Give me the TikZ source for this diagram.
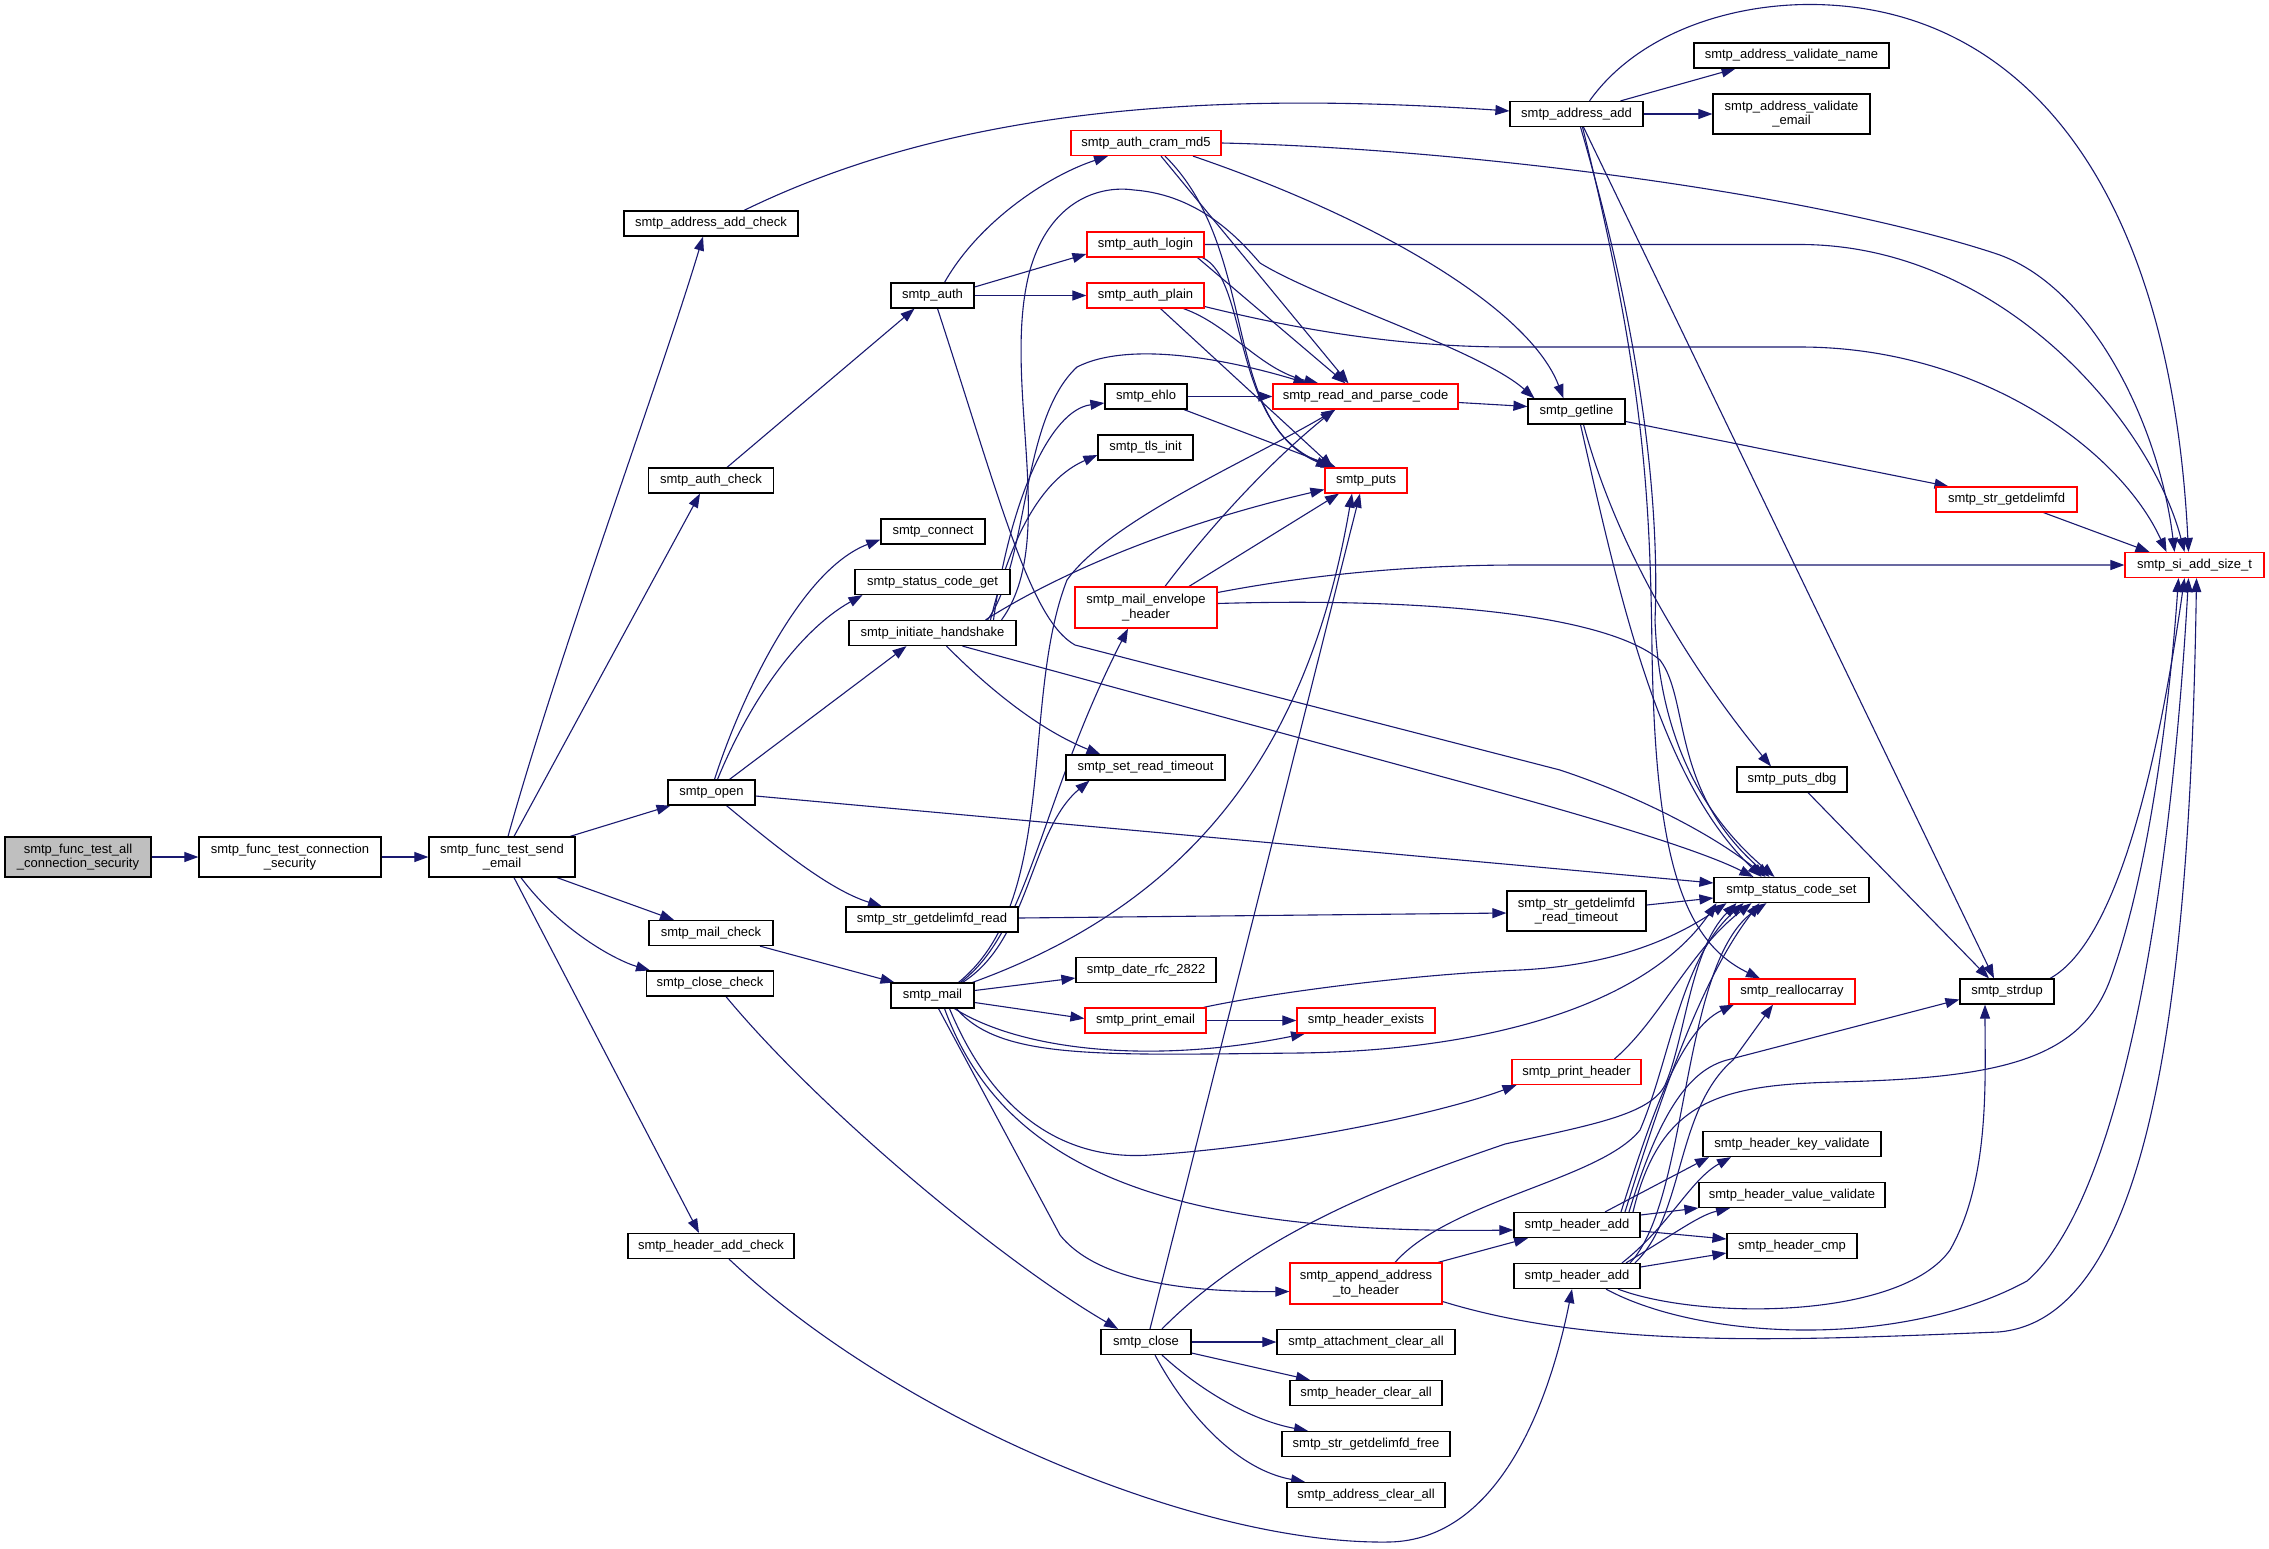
\documentclass[tikz,border=0pt]{standalone}
\usepackage{fontspec}
\setmainfont{Liberation Sans}
\usetikzlibrary{arrows.meta}
\pgfdeclarelayer{background}
\pgfsetlayers{background,main}
\definecolor{edgec}{HTML}{191970}
\definecolor{nodegray}{HTML}{BFBFBF}
\begin{document}
\begin{tikzpicture}[x=1pt,y=-1pt,
  nbox/.style={draw=black,fill=white,line width=1.2pt,inner sep=0pt,align=center,minimum height=25pt,font=\fontsize{13}{14.5}\selectfont},
  rbox/.style={nbox,draw=red},
  conn/.style={draw=edgec,line width=1.1pt,-{Triangle[length=14pt,width=10pt]}}]
\useasboundingbox (0,0) rectangle (2269,1548);
% ---------------- nodes ----------------
\node[nbox,fill=nodegray,minimum width=146pt,minimum height=40pt] (A) at (78,857) {smtp\_func\_test\_all\\\_connection\_security};
\node[nbox,minimum width=182pt,minimum height=40pt] (B) at (290,857) {smtp\_func\_test\_connection\\\_security};
\node[nbox,minimum width=146pt,minimum height=40pt] (C) at (502,857) {smtp\_func\_test\_send\\\_email};
\node[nbox,minimum width=174pt] (aac) at (711,223.5) {smtp\_address\_add\_check};
\node[nbox,minimum width=125pt] (authc) at (711,480.5) {smtp\_auth\_check};
\node[nbox,minimum width=87pt] (open) at (711.5,792.5) {smtp\_open};
\node[nbox,minimum width=124pt] (mailc) at (711,933) {smtp\_mail\_check};
\node[nbox,minimum width=127pt] (closec) at (710,983.5) {smtp\_close\_check};
\node[nbox,minimum width=166pt] (hac) at (711,1246) {smtp\_header\_add\_check};
\node[nbox,minimum width=83pt] (auth) at (932.5,295.5) {smtp\_auth};
\node[nbox,minimum width=104pt] (connect) at (933,531.5) {smtp\_connect};
\node[nbox,minimum width=155pt] (scget) at (932.5,582) {smtp\_status\_code\_get};
\node[nbox,minimum width=167pt] (hand) at (932.5,633) {smtp\_initiate\_handshake};
\node[nbox,minimum width=172pt] (gdread) at (932,919.5) {smtp\_str\_getdelimfd\_read};
\node[nbox,minimum width=83pt] (mail) at (932.5,995.5) {smtp\_mail};
\node[rbox,minimum width=150pt] (cram) at (1146,143) {smtp\_auth\_cram\_md5};
\node[rbox,minimum width=117pt] (login) at (1145.5,244.5) {smtp\_auth\_login};
\node[rbox,minimum width=117pt] (plain) at (1145.5,295.5) {smtp\_auth\_plain};
\node[nbox,minimum width=82pt] (ehlo) at (1146,396.5) {smtp\_ehlo};
\node[nbox,minimum width=95pt] (tls) at (1145.5,447.5) {smtp\_tls\_init};
\node[rbox,minimum width=142pt,minimum height=41pt] (env) at (1146,607.5) {smtp\_mail\_envelope\\\_header};
\node[nbox,minimum width=159pt] (srt) at (1145.5,767.5) {smtp\_set\_read\_timeout};
\node[nbox,minimum width=140pt] (date) at (1146,970) {smtp\_date\_rfc\_2822};
\node[rbox,minimum width=121pt] (pemail) at (1145.5,1020.5) {smtp\_print\_email};
\node[nbox,minimum width=90pt] (close) at (1146,1342) {smtp\_close};
\node[rbox,minimum width=185pt] (rpc) at (1365.5,396.5) {smtp\_read\_and\_parse\_code};
\node[rbox,minimum width=82pt] (puts) at (1366,480.5) {smtp\_puts};
\node[rbox,minimum width=138pt] (hexists) at (1366,1020.5) {smtp\_header\_exists};
\node[rbox,minimum width=152pt,minimum height=41pt] (append) at (1366,1283.5) {smtp\_append\_address\\\_to\_header};
\node[nbox,minimum width=178pt] (attach) at (1366,1342) {smtp\_attachment\_clear\_all};
\node[nbox,minimum width=152pt] (hclear) at (1366,1393) {smtp\_header\_clear\_all};
\node[nbox,minimum width=168pt] (gdfree) at (1366,1444) {smtp\_str\_getdelimfd\_free};
\node[nbox,minimum width=158pt] (aclear) at (1366,1495) {smtp\_address\_clear\_all};
\node[nbox,minimum width=133pt] (aadd) at (1576.5,114) {smtp\_address\_add};
\node[nbox,minimum width=97pt] (getline) at (1576.5,411.5) {smtp\_getline};
\node[nbox,minimum width=139pt,minimum height=40pt] (rto) at (1576.5,911) {smtp\_str\_getdelimfd\\\_read\_timeout};
\node[rbox,minimum width=129pt] (phead) at (1576.5,1072) {smtp\_print\_header};
\node[nbox,minimum width=126pt] (hadd1) at (1577,1225) {smtp\_header\_add};
\node[nbox,minimum width=126pt] (hadd2) at (1577,1276) {smtp\_header\_add};
\node[nbox,minimum width=195pt] (vname) at (1791.5,55.5) {smtp\_address\_validate\_name};
\node[nbox,minimum width=157pt,minimum height=40pt] (vemail) at (1791.5,114) {smtp\_address\_validate\\\_email};
\node[nbox,minimum width=110pt] (putsdbg) at (1792,779.5) {smtp\_puts\_dbg};
\node[nbox,minimum width=155pt] (scset) at (1791.5,890) {smtp\_status\_code\_set};
\node[rbox,minimum width=126pt] (realloc) at (1792,991.5) {smtp\_reallocarray};
\node[nbox,minimum width=178pt] (hkey) at (1792,1144) {smtp\_header\_key\_validate};
\node[nbox,minimum width=186pt] (hval) at (1792,1195) {smtp\_header\_value\_validate};
\node[nbox,minimum width=130pt] (hcmp) at (1792,1246) {smtp\_header\_cmp};
\node[rbox,minimum width=141pt] (gdelim) at (2006.5,499.5) {smtp\_str\_getdelimfd};
\node[nbox,minimum width=94pt] (strdup) at (2007,991.5) {smtp\_strdup};
\node[rbox,minimum width=139pt] (siadd) at (2194.5,565) {smtp\_si\_add\_size\_t};
% ---------------- edges ----------------
\begin{pgfonlayer}{background}
\fill[white] (0,0) rectangle (2269,1548);
\draw[conn] (A.east) -- (B.west);
\draw[conn] (B.east) -- (C.west);
\draw[conn] ([xshift=6pt]C.north) .. controls (560,650) and (660,380) .. ([xshift=-8pt]aac.south);
\draw[conn] ([xshift=12pt]C.north) -- ([xshift=-11pt]authc.south);
\draw[conn] ([xshift=68pt]C.north) -- ([xshift=-41pt]open.south);
\draw[conn] ([xshift=55pt]C.south) -- ([xshift=-37pt]mailc.north);
\draw[conn] ([xshift=19pt]C.south) .. controls (560,930) and (615,960) .. ([xshift=-60pt]closec.north);
\draw[conn] ([xshift=12pt]C.south) -- ([xshift=-12pt]hac.north);
\draw[conn] ([xshift=33pt]aac.north) .. controls (950,110) and (1200,90) .. ([yshift=3pt]aadd.west);
\draw[conn] ([xshift=16pt]authc.north) -- ([xshift=-18pt]auth.south);
\draw[conn] ([xshift=3pt]open.north) .. controls (740,700) and (800,570) .. ([yshift=-8pt]connect.west);
\draw[conn] ([xshift=6pt]open.north) .. controls (750,700) and (800,630) .. ([xshift=-70pt]scget.south);
\draw[conn] ([xshift=18pt]open.north) -- ([xshift=-26pt]hand.south);
\draw[conn] ([yshift=-3.5pt]open.east) -- ([yshift=7pt]scset.west);
\draw[conn] ([xshift=15pt]open.south) .. controls (780,850) and (830,890) .. ([xshift=-50pt]gdread.north);
\draw[conn] ([xshift=12pt]auth.north) .. controls (980,220) and (1050,175) .. ([xshift=-38pt]cram.south);
\draw[conn] ([yshift=8.5pt]auth.east) -- ([yshift=-9.5pt]login.west);
\draw[conn] (auth.east) -- (plain.west);
\draw[conn] ([xshift=5pt]auth.south) .. controls (1000,500) and (1030,620) .. (1075,645) -- (1560,770) .. controls (1650,800) and (1720,840) .. ([xshift=-26pt]scset.north);
\draw[conn] (cram.east) .. controls (1450,148) and (1800,190) .. (1994,253) .. controls (2094,285) and (2160,430) .. ([xshift=-20pt]siadd.north);
\draw[conn] ([xshift=15pt]cram.south) -- ([xshift=-17pt]rpc.north);
\draw[conn] ([xshift=19pt]cram.south) .. controls (1260,250) and (1220,420) .. ([xshift=-36pt]puts.north);
\draw[conn] ([xshift=47pt]cram.south) .. controls (1380,220) and (1530,310) .. ([xshift=-13pt]getline.north);
\draw[conn] (login.east) -- (1800,244.5) .. controls (2000,244.5) and (2150,420) .. ([xshift=-10pt]siadd.north);
\draw[conn] ([xshift=52pt]login.south) -- ([xshift=-20pt]rpc.north);
\draw[conn] ([xshift=57pt]login.south) .. controls (1250,280) and (1230,430) .. ([xshift=-31pt]puts.north);
\draw[conn] ([yshift=-11pt]plain.east) .. controls (1300,330) and (1400,347) .. (1510,347) -- (1800,347) .. controls (1980,347) and (2120,450) .. ([xshift=-28pt]siadd.north);
\draw[conn] ([xshift=38pt]plain.south) .. controls (1230,325) and (1260,370) .. ([xshift=-47pt]rpc.north);
\draw[conn] ([xshift=15pt]plain.south) -- ([xshift=-33pt]puts.north);
\draw[conn] (ehlo.east) -- (rpc.west);
\draw[conn] ([xshift=38pt]ehlo.south) -- ([xshift=-30pt]puts.north);
\draw[conn] ([xshift=58pt]hand.north) .. controls (1010,540) and (1040,480) .. ([yshift=-7.5pt]tls.west);
\draw[conn] ([xshift=61pt]hand.north) .. controls (1010,500) and (1050,410) .. ([yshift=-6.5pt]ehlo.west);
\draw[conn] ([xshift=55pt]hand.north) .. controls (1030,560) and (1020,420) .. (1077,367) .. controls (1130,340) and (1230,360) .. ([xshift=-58pt]rpc.north);
\draw[conn] ([xshift=69pt]hand.north) .. controls (1060,540) and (1000,380) .. (1030,270) .. controls (1050,200) and (1100,185) .. (1134,190) .. controls (1200,195) and (1240,240) .. (1260,263) .. controls (1320,300) and (1480,350) .. ([xshift=-42pt]getline.north);
\draw[conn] ([xshift=53pt]hand.north) .. controls (1040,585) and (1150,530) .. ([yshift=-9pt]puts.west);
\draw[conn] ([xshift=14pt]hand.south) .. controls (990,690) and (1040,730) .. ([xshift=-45pt]srt.north);
\draw[conn] ([xshift=30pt]hand.south) -- (1480,787) .. controls (1600,820) and (1700,850) .. ([xshift=-38pt]scset.north);
\draw[conn] ([yshift=1.5pt]gdread.east) -- ([yshift=-2pt]rto.west);
\draw[conn] ([xshift=28pt]mail.north) .. controls (1030,930) and (1040,800) .. ([xshift=-18pt]env.south);
\draw[conn] ([xshift=30pt]mail.north) .. controls (1030,940) and (1030,830) .. ([xshift=-56pt]srt.south);
\draw[conn] ([xshift=26pt]mail.north) .. controls (1060,900) and (1020,700) .. (1067,580) .. controls (1110,520) and (1250,460) .. ([xshift=-30pt]rpc.south);
\draw[conn] ([xshift=40pt]mail.north) .. controls (1200,900) and (1310,740) .. ([xshift=-14pt]puts.south);
\draw[conn] ([xshift=24pt]mail.south) .. controls (1000,1060) and (1100,1055) .. (1300,1053) .. controls (1500,1050) and (1650,1000) .. ([xshift=-75pt]scset.south);
\draw[conn] ([yshift=5pt]mail.east) -- ([yshift=-8pt]date.west);
\draw[conn] ([yshift=-7pt]mail.east) -- ([yshift=2pt]pemail.west);
\draw[conn] ([xshift=22pt]mail.south) .. controls (1020,1050) and (1150,1065) .. ([xshift=-61pt]hexists.south);
\draw[conn] ([xshift=17pt]mail.south) .. controls (1000,1130) and (1080,1160) .. (1150,1155) .. controls (1300,1145) and (1450,1110) .. ([xshift=-60pt]phead.south);
\draw[conn] ([xshift=12pt]mail.south) .. controls (1000,1160) and (1150,1235) .. ([yshift=-5pt]hadd1.west);
\draw[conn] ([xshift=6pt]mail.south) -- (1060,1235) .. controls (1100,1285) and (1200,1292) .. ([yshift=-8pt]append.west);
\draw[conn] ([xshift=19pt]env.north) .. controls (1200,540) and (1260,470) .. ([xshift=-31pt]rpc.south);
\draw[conn] ([xshift=43pt]env.north) -- ([xshift=-27pt]puts.south);
\draw[conn] ([yshift=15pt]env.east) .. controls (1320,573) and (1420,565) .. (1520,565) -- (siadd.west);
\draw[conn] ([yshift=4pt]env.east) .. controls (1400,598) and (1600,610) .. (1660,660) .. controls (1690,700) and (1670,790) .. ([xshift=-22pt]scset.north);
\draw[conn] (pemail.east) -- (hexists.west);
\draw[conn] ([xshift=58pt]pemail.north) .. controls (1260,995) and (1400,975) .. (1520,970) .. controls (1620,965) and (1680,935) .. ([xshift=-65pt]scset.south);
\draw[conn] ([xshift=4pt]close.north) -- ([xshift=-6pt]puts.south);
\draw[conn] ([xshift=16pt]close.north) .. controls (1260,1230) and (1400,1180) .. (1505,1144) .. controls (1590,1125) and (1650,1115) .. (1665,1085) .. controls (1685,1040) and (1690,950) .. ([xshift=-55pt]scset.south);
\draw[conn] (close.east) -- (attach.west);
\draw[conn] ([yshift=-11pt]close.east) -- ([xshift=-56pt]hclear.north);
\draw[conn] ([xshift=16pt]close.south) .. controls (1200,1390) and (1250,1420) .. ([xshift=-58pt]gdfree.north);
\draw[conn] ([xshift=9pt]close.south) .. controls (1190,1420) and (1240,1470) .. ([xshift=-61pt]aclear.north);
\draw[conn] ([xshift=16pt]closec.south) .. controls (820,1110) and (1000,1260) .. ([xshift=-28pt]close.north);
\draw[conn] ([xshift=49pt]mailc.south) -- ([xshift=-38pt]mail.north);
\draw[conn] ([xshift=18pt]hac.south) .. controls (900,1420) and (1200,1545) .. (1389,1542) .. controls (1500,1540) and (1550,1400) .. ([xshift=-5pt]hadd2.south);
\draw[conn] ([yshift=-6pt]rpc.east) -- ([yshift=5pt]getline.west);
\draw[conn] ([xshift=44pt]aadd.north) -- ([xshift=-56pt]vname.south);
\draw[conn] (aadd.east) -- (vemail.west);
\draw[conn] ([xshift=13pt]aadd.north) .. controls (1640,30) and (1740,0) .. (1829,5) .. controls (2020,15) and (2170,180) .. ([xshift=-6pt]siadd.north);
\draw[conn] ([xshift=4pt]aadd.south) .. controls (1640,330) and (1660,500) .. (1655,620) .. controls (1660,760) and (1720,830) .. ([xshift=-17pt]scset.north);
\draw[conn] ([xshift=6pt]aadd.south) .. controls (1645,380) and (1650,500) .. (1652,650) .. controls (1655,850) and (1680,940) .. ([xshift=-32pt]realloc.north);
\draw[conn] ([xshift=7pt]aadd.south) -- ([xshift=-13pt]strdup.north);
\draw[conn] ([yshift=-10pt]getline.east) -- ([xshift=-58pt]gdelim.north);
\draw[conn] ([xshift=7pt]getline.south) .. controls (1620,560) and (1700,680) .. ([xshift=-21pt]putsdbg.north);
\draw[conn] ([xshift=4pt]getline.south) .. controls (1620,600) and (1660,780) .. ([xshift=-30pt]scset.north);
\draw[conn] ([xshift=37pt]gdelim.south) -- ([xshift=-45pt]siadd.north);
\draw[conn] ([xshift=16pt]putsdbg.south) -- ([xshift=-18pt]strdup.north);
\draw[conn] ([xshift=43pt]strdup.north) .. controls (2120,940) and (2160,750) .. ([xshift=-10pt]siadd.south);
\draw[conn] ([yshift=6pt]rto.east) -- ([yshift=-8pt]scset.west);
\draw[conn] ([xshift=38pt]phead.north) .. controls (1660,1020) and (1690,950) .. ([xshift=-40pt]scset.south);
\draw[conn] ([xshift=28pt]hadd1.north) -- ([xshift=-83pt]hkey.south);
\draw[conn] ([yshift=10pt]hadd1.east) -- ([yshift=-13pt]hval.west);
\draw[conn] ([yshift=-6pt]hadd1.east) -- ([yshift=7pt]hcmp.west);
\draw[conn] ([xshift=45pt]hadd2.north) .. controls (1670,1225) and (1690,1180) .. ([xshift=-61pt]hkey.south);
\draw[conn] ([xshift=49pt]hadd2.north) .. controls (1680,1230) and (1700,1215) .. ([xshift=-62pt]hval.south);
\draw[conn] ([yshift=9pt]hadd2.east) -- ([yshift=-7pt]hcmp.west);
\draw[conn] ([xshift=48pt]hadd1.north) .. controls (1660,1100) and (1700,980) .. ([xshift=-32pt]scset.south);
\draw[conn] ([xshift=53pt]hadd2.north) .. controls (1690,1200) and (1680,960) .. ([xshift=-25pt]scset.south);
\draw[conn] ([xshift=44pt]hadd1.north) .. controls (1650,1120) and (1680,1030) .. ([xshift=-58pt]realloc.south);
\draw[conn] ([xshift=58pt]hadd2.north) .. controls (1685,1215) and (1675,1110) .. (1733,1060) -- ([xshift=-19pt]realloc.south);
\draw[conn] ([xshift=52pt]hadd1.north) .. controls (1660,1110) and (1690,1070) .. (1727,1060) -- ([yshift=-8pt]strdup.west);
\draw[conn] ([xshift=41pt]hadd2.south) .. controls (1700,1320) and (1900,1320) .. (1950,1250) .. controls (1990,1180) and (1985,1080) .. ([xshift=-22pt]strdup.south);
\draw[conn] ([xshift=29pt]hadd2.south) .. controls (1700,1340) and (1900,1350) .. (2027,1281) .. controls (2120,1200) and (2170,900) .. ([xshift=-6pt]siadd.south);
\draw[conn] ([xshift=56pt]hadd1.north) .. controls (1660,1100) and (1720,1085) .. (1836,1082) .. controls (2000,1078) and (2080,1060) .. (2110,980) .. controls (2150,870) and (2170,700) .. ([xshift=-16pt]siadd.south);
\draw[conn] ([xshift=72pt]append.north) -- ([xshift=-49pt]hadd1.south);
\draw[conn] ([yshift=-18pt]append.east) .. controls (1600,1350) and (1800,1340) .. (1998,1332) .. controls (2150,1320) and (2190,1000) .. ([xshift=2pt]siadd.south);
\draw[conn] ([xshift=29pt]append.north) .. controls (1450,1200) and (1600,1180) .. (1640,1130) .. controls (1670,1060) and (1680,960) .. ([xshift=-48pt]scset.south);
\end{pgfonlayer}
\end{tikzpicture}
\end{document}
